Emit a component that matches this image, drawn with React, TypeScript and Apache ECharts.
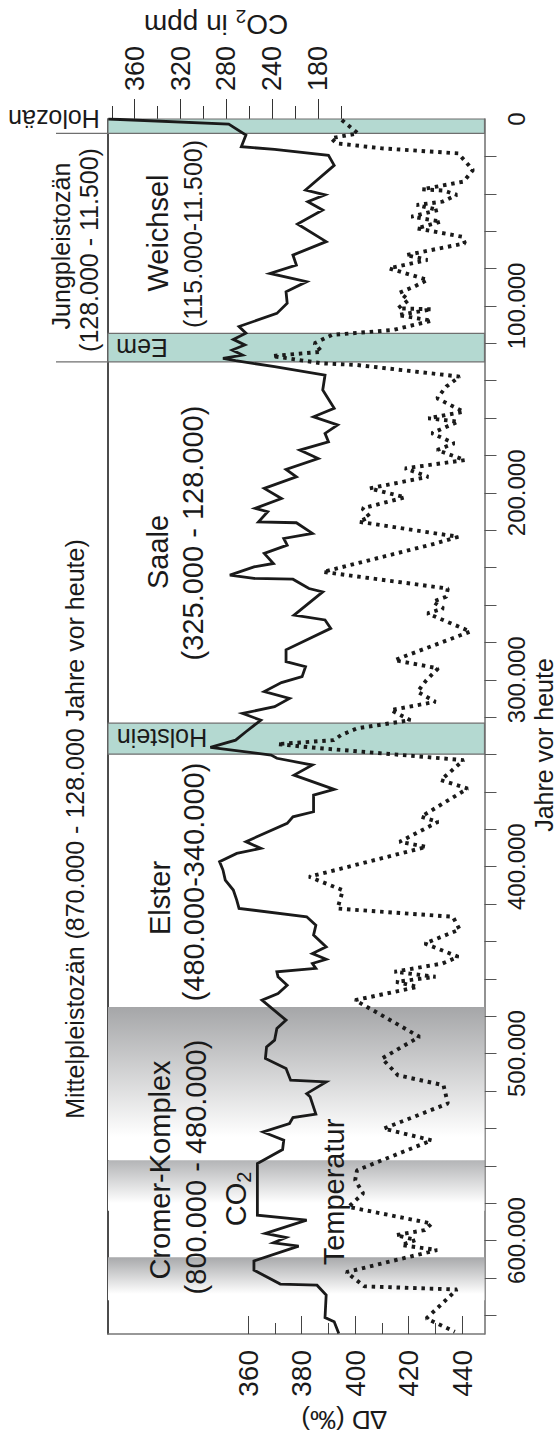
import React, { useEffect, useRef } from "react";
import * as echarts from "echarts";

// ---- data (years in thousands of years before present) ----
const co2Years = [0, 2.7, 8.6, 14.8, 16.3, 19.4, 24.8, 38, 40.6, 44.2, 48.7, 56.2, 65.6, 72.8, 78.1, 82.6, 87, 92.4, 98.6, 104, 111, 114.6, 117.9, 120.9, 123.6, 126.3, 128, 129.3, 132.5, 137, 145, 154.8, 159.3, 163.7, 168.2, 172.7, 177.1, 181.6, 187.5, 191.4, 197.6, 203, 208.3, 210.1, 215.5, 216, 221.7, 224.4, 228, 232.4, 237.8, 239.6, 244, 245.8, 246.2, 251.2, 253, 265.4, 268, 272.5, 284, 290.3, 293, 298.3, 301.5, 306.3, 310, 314.4, 318, 321.6, 327.8, 332.3, 336.2, 340.3, 342, 345.6, 351, 358.6, 361.7, 370.6, 373.3, 376.8, 386.6, 390.2, 392.9, 397.3, 401.8, 407.2, 412.5, 417.9, 422.3, 426.8, 431.3, 436.6, 442.9, 446.5, 449.5, 451.8, 454.4, 456.2, 458.9, 463.4, 467.8, 471.4, 482.1, 486.5, 492.8, 496.4, 502.6, 508, 514.2, 515.1, 521.4, 523.1, 532.4, 534.2, 537.4, 541.9, 546.3, 551.3, 558.8, 586.4, 589.1, 596.2, 598.4, 601.2, 603, 610.9, 615.8, 623.3, 623.9, 629.2, 641.2, 643.5, 649.7];
const co2Values = [383, 278, 263, 267, 238, 191, 186, 211, 194, 209, 196, 218, 193, 222, 219, 242, 210, 228, 227, 236, 269, 263, 274, 264, 275, 266, 283, 272, 238, 194, 196, 186, 204, 183, 194, 191, 216, 200, 228, 219, 247, 232, 255, 244, 252, 219, 205, 230, 227, 247, 239, 256, 277, 256, 222, 208, 196, 221, 194, 189, 228, 228, 211, 214, 232, 247, 225, 238, 266, 250, 263, 272, 294, 241, 236, 205, 221, 186, 204, 204, 222, 227, 263, 250, 271, 286, 283, 281, 274, 271, 269, 210, 202, 204, 193, 205, 193, 205, 202, 236, 235, 227, 235, 249, 228, 236, 238, 245, 246, 228, 224, 193, 210, 207, 202, 222, 225, 248, 230, 231, 253, 253, 210, 246, 228, 239, 217, 256, 256, 233, 201, 193, 194, 186, 182];

const tempYears = [0.5, 7.7, 10.3, 13, 15.7, 18.4, 27.3, 33.5, 37.6, 38.3, 40.6, 44.2, 46, 48.7, 52.2, 54.9, 58.5, 63, 66.5, 72.8, 75.4, 79.9, 86.1, 89.7, 92.9, 96.8, 101.3, 101.8, 104.9, 107.9, 112.9, 115.5, 120, 124.5, 126.8, 130.7, 131.6, 137.8, 143.2, 149.4, 156.6, 160.1, 161.9, 168.1, 173.5, 177.1, 182.5, 186.9, 191.4, 197.6, 202.4, 208.3, 212.8, 215.5, 223.5, 227.1, 242.3, 251.2, 255.6, 258.2, 261.8, 264.5, 274.2, 289.5, 293.9, 300.2, 306.4, 311.8, 316.2, 321.6, 326, 329.6, 332.3, 334.4, 336.2, 343, 353.7, 358.2, 373.3, 376, 386.7, 389.4, 405.4, 412.6, 422.4, 426.8, 433.6, 441.1, 448.2, 451.8, 456.2, 458.9, 461.6, 464.3, 471.4, 491, 502.6, 511.6, 516.9, 526.7, 540.1, 546.4, 562.4, 567.7, 574.8, 582, 590.9, 594.4, 597.1, 599.7, 602.4, 605.1, 616.9, 624.5, 626.2, 641.7, 648.8];
const tempValues = [395, 401, 391, 393, 410, 438.5, 444, 440.5, 425, 433, 438, 432.6, 423, 431, 421, 432, 423, 440, 441, 419, 427, 412.7, 427, 422, 416.6, 420, 416, 428.6, 416, 428.6, 414, 391.4, 384.8, 387.5, 369, 387.5, 400.7, 439, 434, 430.6, 440.5, 427.3, 438.5, 428.6, 437, 430.6, 441, 418.6, 427.3, 405.4, 418.6, 402.7, 405.4, 401.4, 438.5, 430, 388, 434.6, 434, 429, 433, 427, 443, 414.7, 431, 426.6, 423.3, 430, 413.3, 420.6, 400.7, 394.7, 392, 371, 383.5, 440.5, 432, 442, 424.6, 431, 416.6, 426.6, 382.8, 395.4, 393.4, 436.5, 439, 426, 438.5, 432.6, 414.7, 430, 415.3, 423.3, 400, 424, 410, 416, 433, 434.6, 410.7, 428.6, 400.7, 400, 403, 397.5, 428.6, 426, 415.3, 422.6, 417.3, 430.6, 396.7, 403.4, 438, 426.6, 437.2];

// ---- axes ----
const co2TickValues = [360, 320, 280, 240, 200];
const co2TickLabels = ["360", "320", "280", "240", "180"];
const co2MinorTicks = [380, 340, 300, 260, 220, 180];
const dDTickValues = [360, 380, 400, 420, 440];
const dDMinorTicks = [370, 390, 410, 430];
const yearLabelValues = [0, 100, 200, 300, 400, 500, 600];
const yearTickValues = [20, 40, 60, 80, 100, 120, 140, 160, 180, 200, 220, 240, 260, 280, 300, 320, 340, 360, 380, 400, 420, 440, 460, 480, 500, 520, 540, 560, 580, 600, 620, 640];

// ---- periods ----
const tealBands = [[0, 7.65], [114.7, 129.9], [323.2, 339.8]];
const grayBands = [[475, 557], [557, 584], [609, 632]];
const grayBandColors = ["#a5a6a8", "#b3b4b6", "#a8a9ab"];
const boundaryYears = [7.65, 129.9];

const FONT = '"Liberation Sans", Arial, Helvetica, sans-serif';
const INK = "#1a1a1a";

const labelTexts = [
  { t: "Holozän", x: 54, y: 119, r: "flip", s: 25 },
  { t: "Jungpleistozän", x: 61, y: 246, r: "up", s: 25 },
  { t: "(128.000 - 11.500)", x: 89, y: 250, r: "up", s: 25 },
  { t: "Weichsel", x: 158, y: 233, r: "up", s: 29 },
  { t: "(115.000-11.500)", x: 193, y: 234, r: "up", s: 25 },
  { t: "Eem", x: 142, y: 348, r: "flip", s: 25 },
  { t: "Mittelpleistozän (870.000 - 128.000 Jahre vor heute)", x: 75, y: 829, r: "up", s: 25 },
  { t: "Saale", x: 158, y: 552, r: "up", s: 29 },
  { t: "(325.000 - 128.000)", x: 193, y: 533, r: "up", s: 29 },
  { t: "Holstein", x: 162, y: 738, r: "flip", s: 25 },
  { t: "Elster", x: 160, y: 898, r: "up", s: 29 },
  { t: "(480.000-340.000)", x: 194, y: 882, r: "up", s: 29 },
  { t: "Cromer-Komplex", x: 160, y: 1170, r: "up", s: 29 },
  { t: "(800.000 - 480.000)", x: 196, y: 1167, r: "up", s: 29 },
  { t: "Temperatur", x: 334, y: 1192, r: "up", s: 29 },
  { t: "Jahre vor heute", x: 544, y: 745, r: "up", s: 25 },
  { t: "∆D (‰)", x: 344, y: 1420, r: "flip", s: 26 },
];

const GRID = { left: 108, top: 119, width: 376.5, height: 1215 };

export default function App() {
  const ref = useRef<HTMLDivElement>(null);

  useEffect(() => {
    if (!ref.current) return;
    const chart = echarts.init(ref.current, undefined, { renderer: "svg" });

    const co2Data = co2Years.map((y, i) => [co2Values[i], y]);
    const tempData = tempYears.map((y, i) => [tempValues[i], y]);

    const bandAreas: any[] = [];
    grayBands.forEach((b, i) => {
      bandAreas.push([
        {
          yAxis: b[0],
          itemStyle: {
            color: new echarts.graphic.LinearGradient(0, 0, 0, 1, [
              { offset: 0, color: grayBandColors[i] },
              { offset: 0.85, color: "#ffffff" },
              { offset: 1, color: "#ffffff" },
            ]),
            borderWidth: 0,
          },
        },
        { yAxis: b[1] },
      ]);
    });
    tealBands.forEach((b) => {
      bandAreas.push([
        { yAxis: b[0], itemStyle: { color: "#b4d9d1", borderColor: "#6f6f6f", borderWidth: 1.2 } },
        { yAxis: b[1] },
      ]);
    });

    const baseX = {
      type: "value",
      splitLine: { show: false },
      axisPointer: { show: false },
    };

    const option: any = {
      animation: false,
      backgroundColor: "#ffffff",
      grid: { ...GRID, containLabel: false },
      xAxis: [
        {
          ...baseX,
          position: "top",
          inverse: true,
          min: 54.9,
          max: 383.3,
          axisLine: { show: true, lineStyle: { color: "#6f6f6f", width: 1 } },
          axisTick: { show: true, inside: false, length: 20, customValues: co2TickValues, lineStyle: { color: "#333", width: 1 } },
          axisLabel: {
            show: true,
            customValues: co2TickValues,
            formatter: (v: number) => co2TickLabels[co2TickValues.indexOf(v)] ?? "",
            rotate: 90,
            margin: 28,
            fontSize: 27,
            fontFamily: FONT,
            color: INK,
          },
        },
        {
          ...baseX,
          position: "top",
          inverse: true,
          min: 54.9,
          max: 383.3,
          axisLine: { show: false },
          axisTick: { show: true, inside: false, length: 13, customValues: co2MinorTicks, lineStyle: { color: "#333", width: 1 } },
          axisLabel: { show: false },
        },
        {
          ...baseX,
          position: "bottom",
          min: 307.7,
          max: 448.3,
          axisLine: { show: true, lineStyle: { color: "#777", width: 1.6 } },
          axisTick: { show: true, inside: true, length: 18, customValues: dDTickValues, lineStyle: { color: "#444", width: 1 } },
          axisLabel: {
            show: true,
            customValues: dDTickValues,
            rotate: 90,
            margin: 16,
            fontSize: 28,
            fontFamily: FONT,
            color: INK,
          },
        },
        {
          ...baseX,
          position: "bottom",
          min: 307.7,
          max: 448.3,
          axisLine: { show: false },
          axisTick: { show: true, inside: true, length: 11, customValues: dDMinorTicks, lineStyle: { color: "#444", width: 1 } },
          axisLabel: { show: false },
        },
      ],
      yAxis: [
        {
          type: "value",
          position: "right",
          inverse: true,
          min: 0,
          max: 650,
          splitLine: { show: false },
          axisLine: { show: true, lineStyle: { color: "#777", width: 1.6 } },
          axisTick: { show: true, inside: false, length: 12, customValues: yearTickValues, lineStyle: { color: "#555", width: 1 } },
          axisLabel: {
            show: true,
            customValues: yearLabelValues,
            formatter: (v: number) => (v === 0 ? "0" : `${v}.000`),
            rotate: 90,
            margin: 20,
            fontSize: 24,
            fontFamily: FONT,
            color: INK,
          },
        },
        {
          type: "value",
          position: "left",
          inverse: true,
          min: 0,
          max: 650,
          splitLine: { show: false },
          axisLine: { show: true, lineStyle: { color: "#111", width: 1.5 } },
          axisTick: { show: false },
          axisLabel: { show: false },
        },
      ],
      series: [
        {
          type: "line",
          xAxisIndex: 0,
          yAxisIndex: 0,
          data: [],
          z: 1,
          silent: true,
          markArea: { silent: true, data: bandAreas },
        },
        {
          name: "CO2",
          type: "line",
          xAxisIndex: 0,
          yAxisIndex: 0,
          data: co2Data,
          symbol: "none",
          z: 4,
          lineStyle: { color: INK, width: 2.8, join: "miter", miterLimit: 4 },
        },
        {
          name: "Temperatur",
          type: "line",
          xAxisIndex: 2,
          yAxisIndex: 0,
          data: tempData,
          symbol: "none",
          z: 3,
          lineStyle: { color: INK, width: 3.9, type: [3.5, 4.8], cap: "butt" },
        },
      ],
    };

    chart.setOption(option);

    const graphics: any[] = labelTexts.map((l) => ({
      type: "text",
      x: l.x,
      y: l.y,
      rotation: l.r === "up" ? Math.PI / 2 : Math.PI,
      silent: true,
      z: 10,
      style: {
        text: l.t,
        font: `${l.s}px ${FONT}`,
        fill: INK,
        align: "center",
        verticalAlign: "middle",
      },
    }));

    const richCO2 = (size: number, sub: number) => ({
      a: { fontSize: size, fontFamily: FONT, lineHeight: Math.round(size * 1.2), verticalAlign: "middle", fill: INK, color: INK },
      b: { fontSize: sub, fontFamily: FONT, lineHeight: sub, verticalAlign: "bottom", fill: INK, color: INK },
    });

    graphics.push({
      type: "text",
      x: 216,
      y: 24,
      rotation: Math.PI,
      silent: true,
      z: 10,
      style: { text: "{a|CO}{b|2}{a| in ppm}", rich: richCO2(28, 19), align: "center", verticalAlign: "middle", fill: INK },
    });
    graphics.push({
      type: "text",
      x: 236,
      y: 1199,
      rotation: Math.PI / 2,
      silent: true,
      z: 10,
      style: { text: "{a|CO}{b|2}", rich: richCO2(29, 20), align: "center", verticalAlign: "middle", fill: INK },
    });

    boundaryYears.forEach((yr) => {
      const py = chart.convertToPixel({ yAxisIndex: 0 } as any, yr) as number;
      graphics.push({
        type: "line",
        silent: true,
        z: 5,
        shape: { x1: 56, y1: py, x2: GRID.left, y2: py },
        style: { stroke: "#6f6f6f", lineWidth: 1.2 },
      });
    });

    chart.setOption({ graphic: graphics });

    return () => {
      chart.dispose();
    };
  }, []);

  return (
    <div
      ref={ref}
      style={{ position: "absolute", left: 0, top: 0, width: 560, height: 1442, background: "#fff" }}
    />
  );
}
